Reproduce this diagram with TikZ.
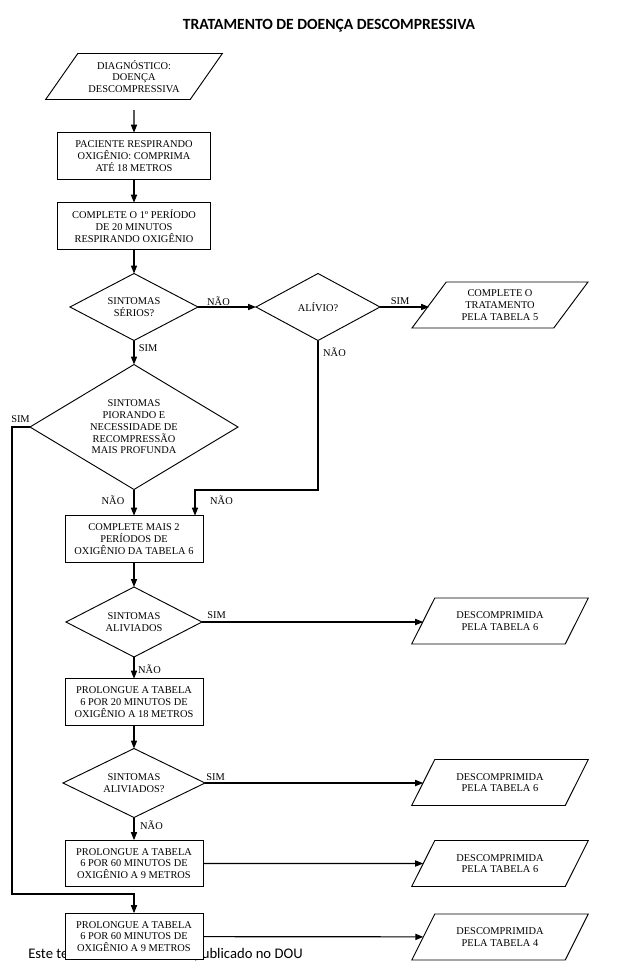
\documentclass[tikz,border=0pt]{standalone}
\usepackage{fontspec}
\setmainfont{Liberation Serif}
\newfontfamily\calibri{Carlito}
\usepackage{tikz}
\usetikzlibrary{shapes.geometric, arrows, arrows.meta}
\usetikzlibrary{positioning}

\begin{document}
\begin{tikzpicture}[x=0.75pt,y=0.75pt,yscale=-1,xscale=1]
  \useasboundingbox (0,0) rectangle (633,967);
  \tikzstyle{arrow} = [line width=0.9pt,->,>={Triangle[length=6pt,width=4.6pt]}]
  \tikzstyle{txt} = [font=\fontsize{7.8}{8.8}\selectfont, align=center, inner sep=0.5pt, outer sep=0pt]
  \tikzstyle{process} = [txt, draw, line width=0.7pt, rectangle, fill=white, minimum width=103.5pt, minimum height=35pt]
  \tikzstyle{decision} = [txt, draw, line width=0.7pt, diamond, aspect=2]
  \tikzstyle{io} = [txt, draw, line width=0.7pt, trapezium, trapezium left angle=52, trapezium right angle=128, trapezium stretches=true, minimum width=132.75pt, minimum height=34.5pt]
  \tikzstyle{lbl} = [font=\fontsize{7.8}{8.8}\selectfont, inner sep=0pt]
  %Title and footer (the footer lies under the last box)
  \node[font=\calibri\bfseries\fontsize{11.7}{14}\selectfont] (title) at (329,25.5) {TRATAMENTO DE DOENÇA DESCOMPRESSIVA};
  \node[font=\calibri\fontsize{11}{13}\selectfont, anchor=base west, inner sep=0pt] (rodape1) at (28,958) {Este texto não substitui o};
  \node[font=\calibri\fontsize{11}{13}\selectfont, anchor=base east, inner sep=0pt] (rodape2) at (303,958) {publicado no DOU};
  %Draw the main column
  \node[io] (diag) at (134,76.5) {DIAGNÓSTICO:\\DOENÇA\\DESCOMPRESSIVA};
  \node[process, minimum width=114.75pt] (pac) at (134,156) {PACIENTE RESPIRANDO\\OXIGÊNIO: COMPRIMA\\ATÉ 18 METROS};
  \node[process, minimum width=114.75pt] (per1) at (134,226) {COMPLETE O 1º PERÍODO\\DE 20 MINUTOS\\RESPIRANDO OXIGÊNIO};
  \node[decision, minimum width=96pt, minimum height=50.25pt] (d1) at (134,307) {SINTOMAS\\SÉRIOS?};
  \node[decision, minimum width=93pt, minimum height=50.25pt] (d2) at (318,307) {ALÍVIO?};
  \node[io] (tab5) at (500,305) {COMPLETE O\\TRATAMENTO\\PELA TABELA 5};
  \node[decision, minimum width=156pt, minimum height=93.75pt] (d3) at (134,427) {SINTOMAS\\PIORANDO E\\NECESSIDADE DE\\RECOMPRESSÃO\\MAIS PROFUNDA};
  \node[process] (mais2) at (134,539) {COMPLETE MAIS 2\\PERÍODOS DE\\OXIGÊNIO DA TABELA 6};
  \node[decision, minimum width=102pt, minimum height=52.5pt] (d4) at (134,622) {SINTOMAS\\ALIVIADOS};
  \node[io] (tab6a) at (500,621) {DESCOMPRIMIDA\\PELA TABELA 6};
  \node[process] (prol20) at (134,702) {PROLONGUE A TABELA\\6 POR 20 MINUTOS DE\\OXIGÊNIO A 18 METROS};
  \node[decision, minimum width=106.5pt, minimum height=51.75pt] (d5) at (134,783) {SINTOMAS\\ALIVIADOS?};
  \node[io] (tab6b) at (500,782.5) {DESCOMPRIMIDA\\PELA TABELA 6};
  \node[process] (prol60a) at (134,863.5) {PROLONGUE A TABELA\\6 POR 60 MINUTOS DE\\OXIGÊNIO A 9 METROS};
  \node[io] (tab6c) at (500,863.5) {DESCOMPRIMIDA\\PELA TABELA 6};
  \node[process] (prol60b) at (134,936.5) {PROLONGUE A TABELA\\6 POR 60 MINUTOS DE\\OXIGÊNIO A 9 METROS};
  \node[io] (tab4) at (500,937) {DESCOMPRIMIDA\\PELA TABELA 4};
  %Bend points
  \coordinate (m1) at (195,490);
  \coordinate (l1) at (12,894);
  %Draw the connectors
  \draw[arrow, shorten <=8pt] (diag) -- (pac);
  \draw[arrow] (pac) -- (per1);
  \draw[arrow] (per1) -- (d1);
  \draw[arrow] (d1) -- (d2);
  \draw[arrow] (d2.east) -- (d2.east -| tab5.west);
  \draw[arrow] (d1) -- (d3);
  \draw[arrow] (d3) -- (mais2);
  \draw[arrow] (d2.south) |- (m1) -- (m1 |- mais2.north);
  \draw[arrow] (d3.west) -| (l1) -| (prol60b.north);
  \draw[arrow] (mais2) -- (d4);
  \draw[arrow] (d4.east) -- (d4.east -| tab6a.west);
  \draw[arrow] (d4) -- (prol20);
  \draw[arrow] (prol20) -- (d5);
  \draw[arrow] (d5.east) -- (d5.east -| tab6b.west);
  \draw[arrow] (d5) -- (prol60a);
  \draw[arrow] (prol60a) -- (tab6c);
  \draw[arrow] (prol60b) -- (tab4);
  % Label the connectors
  \node[lbl] (nao1) at (218.5,301) {NÃO};
  \node[lbl] (sim1) at (400,301) {SIM};
  \node[lbl] (sim2) at (148,348) {SIM};
  \node[lbl] (nao2) at (334.5,352) {NÃO};
  \node[lbl] (sim3) at (20.5,419) {SIM};
  \node[lbl] (nao3) at (113,500) {NÃO};
  \node[lbl] (nao4) at (221.5,500) {NÃO};
  \node[lbl] (sim4) at (216.5,615) {SIM};
  \node[lbl] (nao5) at (149.5,669) {NÃO};
  \node[lbl] (sim5) at (215.5,777) {SIM};
  \node[lbl] (nao6) at (151.5,825) {NÃO};
\end{tikzpicture}
\end{document}
